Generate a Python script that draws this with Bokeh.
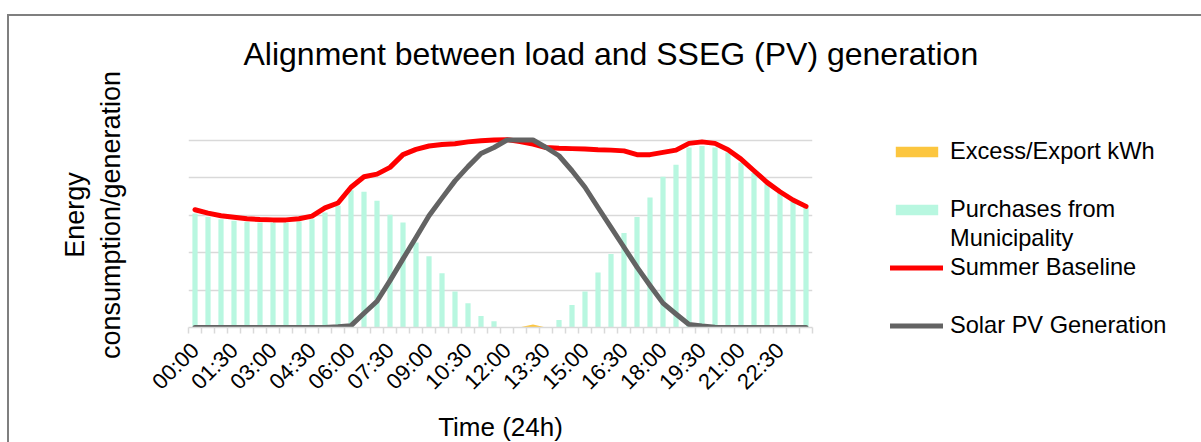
import math
from bokeh.plotting import figure
from bokeh.models import (Range1d, FixedTicker, Title, Legend, LegendItem)
from bokeh.embed import file_html
from bokeh.resources import INLINE

# ---------------- data ----------------
times = ["00:00", "00:30", "01:00", "01:30", "02:00", "02:30", "03:00", "03:30",
         "04:00", "04:30", "05:00", "05:30", "06:00", "06:30", "07:00", "07:30",
         "08:00", "08:30", "09:00", "09:30", "10:00", "10:30", "11:00", "11:30",
         "12:00", "12:30", "13:00", "13:30", "14:00", "14:30", "15:00", "15:30",
         "16:00", "16:30", "17:00", "17:30", "18:00", "18:30", "19:00", "19:30",
         "20:00", "20:30", "21:00", "21:30", "22:00", "22:30", "23:00", "23:30"]

summer_baseline = [3.14, 3.05, 2.98, 2.94, 2.90, 2.88, 2.87, 2.87, 2.90, 2.97, 3.19, 3.32,
                   3.74, 4.02, 4.09, 4.27, 4.61, 4.75, 4.84, 4.88, 4.90, 4.95, 4.98, 5.00,
                   5.01, 4.96, 4.89, 4.80, 4.78, 4.77, 4.76, 4.74, 4.73, 4.71, 4.61, 4.61,
                   4.67, 4.73, 4.91, 4.95, 4.91, 4.74, 4.49, 4.18, 3.87, 3.62, 3.40, 3.23]

solar_pv = [0, 0, 0, 0, 0, 0, 0, 0, 0, 0, 0, 0.02,
            0.05, 0.38, 0.70, 1.25, 1.83, 2.40, 2.98, 3.45, 3.91, 4.29, 4.64, 4.80,
            5.00, 5.00, 5.00, 4.80, 4.58, 4.18, 3.74, 3.20, 2.67, 2.14, 1.61, 1.12,
            0.65, 0.36, 0.08, 0.04, 0.01, 0, 0, 0, 0, 0, 0, 0]

purchases = [3.04, 2.95, 2.89, 2.85, 2.82, 2.80, 2.80, 2.80, 2.83, 2.89, 3.07, 3.25,
             3.66, 3.62, 3.38, 3.01, 2.80, 2.27, 1.90, 1.45, 0.96, 0.65, 0.31, 0.17,
             0, 0, 0, 0, 0.20, 0.60, 0.96, 1.47, 1.96, 2.52, 2.95, 3.47,
             4.02, 4.34, 4.80, 4.84, 4.80, 4.67, 4.40, 4.13, 3.82, 3.60, 3.38, 3.22]

excess = [0, 0, 0, 0, 0, 0, 0, 0, 0, 0, 0, 0,
          0, 0, 0, 0, 0, 0, 0, 0, 0, 0, 0, 0,
          0, 0.01, 0.08, 0, 0, 0, 0, 0, 0, 0, 0, 0,
          0, 0, 0, 0, 0, 0, 0, 0, 0, 0, 0, 0]

tick_every = 3
title_text = "Alignment between load and SSEG (PV) generation"
y_title = "Energy\nconsumption/generation"
x_title = "Time (24h)"
legend_labels = ["Excess/Export kWh", "Purchases from", "Municipality",
                 "Summer Baseline", "Solar PV Generation"]

# ---------------- figure ----------------
FONT = "Liberation Sans"
idx = list(range(len(times)))

# canvas starts at page (9, 16) because of the CSS margin + border
p = figure(frame_width=624, frame_height=225, output_backend="svg",
           toolbar_location=None, title=None,
           x_range=Range1d(-0.5, len(times) - 0.5), y_range=Range1d(0, 6),
           min_border_left=179, min_border_right=100,
           min_border_top=86, min_border_bottom=100, tools="")
p.styles = {"border-top": "2px solid #7f7f7f", "border-left": "2px solid #7f7f7f",
            "margin-top": "14px", "margin-left": "7px"}
p.outline_line_color = None
p.background_fill_color = "white"
p.border_fill_color = "white"

# grid
p.xgrid.visible = False
p.ygrid.ticker = FixedTicker(ticks=[1, 2, 3, 4, 5, 6])
p.ygrid.grid_line_color = "#d9d9d9"
p.ygrid.grid_line_width = 1.5

# y axis: only the title
ya = p.yaxis[0]
ya.ticker = FixedTicker(ticks=[])
ya.axis_line_color = None
ya.major_tick_line_color = None
ya.minor_tick_line_color = None
ya.major_label_text_font_size = "0px"
ya.axis_label = y_title
ya.axis_label_text_font = FONT
ya.axis_label_text_font_size = "27px"
ya.axis_label_text_font_style = "normal"
ya.axis_label_text_color = "black"
ya.axis_label_standoff = 63

# x axis
xa = p.xaxis[0]
xa.ticker = FixedTicker(ticks=idx[::tick_every],
                        minor_ticks=[i - 0.5 for i in range(len(times) + 1)])
xa.major_label_overrides = {i: times[i] for i in idx[::tick_every]}
xa.major_label_orientation = math.pi / 4
xa.major_label_text_font = FONT
xa.major_label_text_font_size = "22px"
xa.major_label_text_color = "black"
xa.major_label_standoff = 13
xa.major_tick_in = 0
xa.major_tick_out = 0
xa.minor_tick_in = 0
xa.minor_tick_out = 6
xa.minor_tick_line_color = "#d9d9d9"
xa.minor_tick_line_width = 1.5
xa.axis_line_color = "#d9d9d9"
xa.axis_line_width = 1.5
xa.axis_label = x_title
xa.axis_label_text_font = FONT
xa.axis_label_text_font_size = "26px"
xa.axis_label_text_font_style = "normal"
xa.axis_label_text_color = "black"
xa.axis_label_standoff = 6

# series
r_bar = p.vbar(x=idx, top=purchases, width=0.4, color="#b8f7e0", line_color=None)
r_exc = p.varea(x=idx, y1=[0] * len(idx), y2=excess, fill_color="#fcc63f")
r_base = p.line(idx, summer_baseline, line_color="#ff0000", line_width=5,
                line_cap="round", line_join="round")
r_pv = p.line(idx, solar_pv, line_color="#636363", line_width=5,
              line_cap="round", line_join="round")
r_blank = p.line([], [], line_alpha=0)  # invisible swatch for spacer rows

# title (a blank spacer row keeps it clear of the plot area)
p.add_layout(Title(text=" ", text_font=FONT, text_font_size="12px",
                   standoff=0), "above")
p.add_layout(Title(text=title_text, text_font=FONT, text_font_size="32px",
                   text_font_style="normal", text_color="black",
                   align="left", offset=55, standoff=30), "above")

# legend
legend = Legend(items=[
    LegendItem(label=legend_labels[0], renderers=[r_exc]),
    LegendItem(label=" ", renderers=[r_blank]),
    LegendItem(label=legend_labels[1], renderers=[r_bar]),
    LegendItem(label=legend_labels[2], renderers=[r_blank]),
    LegendItem(label=legend_labels[3], renderers=[r_base]),
    LegendItem(label=" ", renderers=[r_blank]),
    LegendItem(label=legend_labels[4], renderers=[r_pv]),
], location=(78, -13))
legend.label_text_font = FONT
legend.label_text_font_size = "23.6px"
legend.label_text_color = "black"
legend.label_height = 29
legend.glyph_width = 53
legend.glyph_height = 13
legend.label_standoff = 7
legend.spacing = 0
legend.padding = 0
legend.margin = 0
legend.border_line_color = None
legend.background_fill_alpha = 0
p.add_layout(legend, "right")

open("out.html", "w").write(file_html(p, INLINE))
